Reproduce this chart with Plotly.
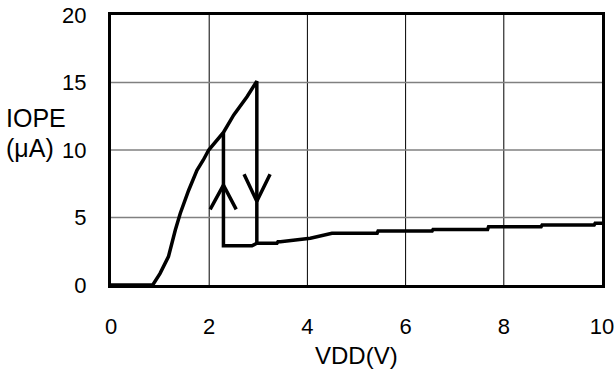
import plotly.graph_objects as go

# Main hysteresis curve: rising branch up to 3.0 V, drop, and the low branch
vdd = [0.0, 0.85, 1.0, 1.17, 1.31, 1.41, 1.58, 1.75, 1.88, 1.99, 2.29, 2.5, 2.77, 2.97,
       2.97, 3.38, 3.40, 3.45, 4.06, 4.27, 4.5, 5.42, 5.44, 6.54, 6.56, 7.67, 7.69,
       8.76, 8.78, 9.84, 9.86, 10.0]
iope = [0.0, 0.0, 0.86, 2.1, 4.07, 5.3, 7.0, 8.5, 9.26, 10.0, 11.3, 12.6, 13.95, 15.1,
        3.09, 3.09, 3.2, 3.2, 3.46, 3.63, 3.83, 3.83, 4.0, 4.0, 4.12, 4.12, 4.32,
        4.32, 4.44, 4.44, 4.57, 4.57]

# Low-voltage return branch (upward jump at ~2.3 V)
ret_vdd = [2.29, 2.29, 2.87, 2.97]
ret_iope = [11.3, 2.9, 2.9, 3.09]

# Arrow heads (chevrons)
up_arrow_x = [2.02, 2.29, 2.55]
up_arrow_y = [5.6, 7.4, 5.6]
down_arrow_x = [2.71, 2.97, 3.24]
down_arrow_y = [8.2, 6.2, 8.2]

x_ticks = [0, 2, 4, 6, 8, 10]
y_ticks = [0, 5, 10, 15, 20]

FONT = "Liberation Sans, Arial, sans-serif"

fig = go.Figure()
for xv in x_ticks[1:-1]:
    fig.add_shape(type="line", xref="x", yref="y", x0=xv, x1=xv, y0=0, y1=20,
                  line=dict(color="black", width=1), layer="below")
for yv in y_ticks[1:-1]:
    fig.add_shape(type="line", xref="x", yref="y", x0=0, x1=10, y0=yv, y1=yv,
                  line=dict(color="#808080", width=1.5), layer="below")

line_style = dict(color="black", width=3.5)
fig.add_trace(go.Scatter(x=vdd, y=iope, mode="lines", line=line_style, showlegend=False))
fig.add_trace(go.Scatter(x=ret_vdd, y=ret_iope, mode="lines", line=line_style, showlegend=False))
fig.add_trace(go.Scatter(x=up_arrow_x, y=up_arrow_y, mode="lines", line=line_style, showlegend=False))
fig.add_trace(go.Scatter(x=down_arrow_x, y=down_arrow_y, mode="lines", line=line_style, showlegend=False))

fig.update_layout(
    width=614, height=370,
    margin=dict(l=111, r=12, t=15, b=85, autoexpand=False),
    paper_bgcolor="white", plot_bgcolor="white",
    font=dict(family=FONT, size=22, color="black"),
    xaxis=dict(range=[0, 10], tickvals=x_ticks, showgrid=False, zeroline=False,
               showline=True, linecolor="black", linewidth=3, mirror=True,
               ticks="outside", ticklen=0, ticklabelstandoff=20, automargin=False,
               ticklabeloverflow="allow", tickfont=dict(size=22)),
    yaxis=dict(range=[0, 20], tickvals=y_ticks, showgrid=False, zeroline=False,
               showline=True, linecolor="black", linewidth=3, mirror=True,
               ticks="outside", ticklen=0, ticklabelstandoff=17, automargin=False,
               ticklabeloverflow="allow", tickfont=dict(size=22)),
    annotations=[
        dict(text="VDD(V)", xref="paper", yref="paper", x=0.5, y=(285 - 355) / 270,
             xanchor="center", yanchor="middle", showarrow=False, font=dict(size=24)),
        dict(text="IOPE", xref="paper", yref="paper", x=(4 - 111) / 491, y=(285 - 117.5) / 270,
             xanchor="left", yanchor="middle", showarrow=False, font=dict(size=25)),
        dict(text="(μA)", xref="paper", yref="paper", x=(4 - 111) / 491, y=(285 - 148) / 270,
             xanchor="left", yanchor="middle", showarrow=False, font=dict(size=25)),
    ],
)

fig.write_html("out.html", config={"displayModeBar": False},
               post_script="document.body.style.margin='0';document.body.style.overflow='hidden';")
